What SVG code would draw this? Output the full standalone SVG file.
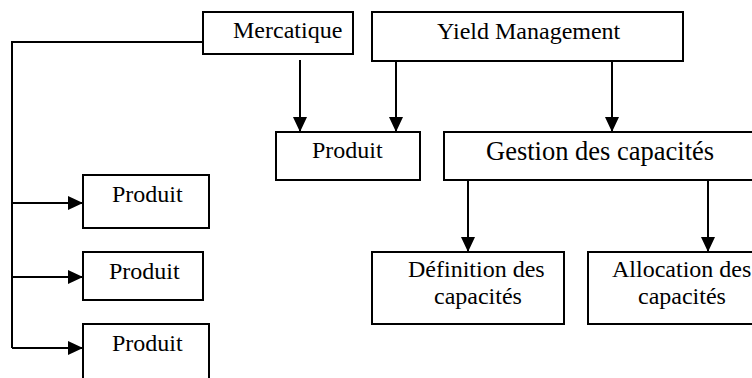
<svg xmlns="http://www.w3.org/2000/svg" width="752" height="378" viewBox="0 0 752 378">
  <style>
    .box { fill: #ffffff; stroke: #000000; stroke-width: 2; }
    .lbl { font-family: "Liberation Serif", "Times New Roman", serif; font-size: 24px; fill: #000000; }
    .big { font-size: 26.5px; }
    .wire { fill: none; stroke: #000000; stroke-width: 2; }
  </style>
  <defs>
    <marker id="arrow" markerUnits="userSpaceOnUse" markerWidth="16" markerHeight="16" viewBox="0 0 16 16" refX="15" refY="8" orient="auto">
      <path d="M0,1 L15,8 L0,15 Z" fill="#000000"/>
    </marker>
  </defs>

  <rect width="752" height="378" fill="#ffffff"/>

  <g id="connectors">
    <path class="wire" d="M203,42 H12 V348" />
    <path class="wire" d="M12,203 H83" marker-end="url(#arrow)"/>
    <path class="wire" d="M12,277 H83" marker-end="url(#arrow)"/>
    <path class="wire" d="M12,348 H83" marker-end="url(#arrow)"/>
    <path class="wire" d="M300,60 V132" marker-end="url(#arrow)"/>
    <path class="wire" d="M396,61 V132" marker-end="url(#arrow)"/>
    <path class="wire" d="M612,61 V132" marker-end="url(#arrow)"/>
    <path class="wire" d="M468,180 V252" marker-end="url(#arrow)"/>
    <path class="wire" d="M708,180 V252" marker-end="url(#arrow)"/>
  </g>

  <g id="mercatique">
    <rect class="box" x="203" y="12" width="150" height="42"/>
    <text class="lbl" x="233" y="38">Mercatique</text>
  </g>

  <g id="yield-management">
    <rect class="box" x="372" y="12" width="311" height="49"/>
    <text class="lbl" x="437" y="39">Yield Management</text>
  </g>

  <g id="produit-centre">
    <rect class="box" x="276" y="132" width="144" height="48"/>
    <text class="lbl" x="312" y="158">Produit</text>
  </g>

  <g id="gestion-capacites">
    <rect class="box" x="444" y="132" width="320" height="48"/>
    <text class="lbl big" x="486" y="160">Gestion des capacités</text>
  </g>

  <g id="definition-capacites">
    <rect class="box" x="372" y="252" width="192" height="72"/>
    <text class="lbl" x="408" y="277">Définition des</text>
    <text class="lbl" x="434" y="304">capacités</text>
  </g>

  <g id="allocation-capacites">
    <rect class="box" x="588" y="252" width="180" height="72"/>
    <text class="lbl" x="612" y="277">Allocation des</text>
    <text class="lbl" x="638" y="304">capacités</text>
  </g>

  <g id="produit-1">
    <rect class="box" x="83" y="175" width="126" height="53"/>
    <text class="lbl" x="112" y="202">Produit</text>
  </g>

  <g id="produit-2">
    <rect class="box" x="83" y="252" width="120" height="48"/>
    <text class="lbl" x="109" y="279">Produit</text>
  </g>

  <g id="produit-3">
    <rect class="box" x="83" y="324" width="126" height="70"/>
    <text class="lbl" x="112" y="351">Produit</text>
  </g>
</svg>
